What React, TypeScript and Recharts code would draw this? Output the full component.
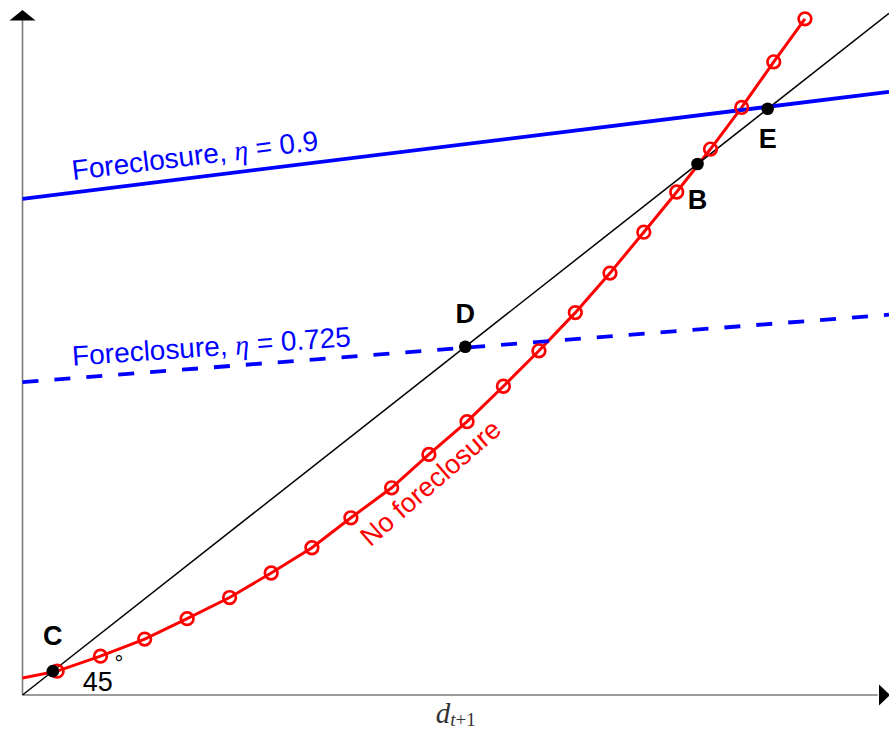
import { LineChart, Line, XAxis, YAxis, ReferenceLine, ReferenceDot } from "recharts";

// no-foreclosure curve (first point has no marker)
const noFcX = [0, 0.4, 0.9, 1.41, 1.9, 2.39, 2.87, 3.34, 3.79, 4.26, 4.69, 5.13, 5.55, 5.96, 6.38, 6.78, 7.17, 7.55, 7.94, 8.3, 8.67, 9.03];
const noFcY = [0.25, 0.35, 0.57, 0.82, 1.12, 1.43, 1.79, 2.16, 2.6, 3.04, 3.53, 4.01, 4.53, 5.05, 5.61, 6.19, 6.79, 7.38, 8.01, 8.62, 9.29, 9.92];

const fc09X = [0, 10];
const fc09Y = [7.28, 8.85];
const fc0725X = [0, 10];
const fc0725Y = [4.59, 5.58];
const diagX = [0, 10];
const diagY = [0, 10];

const pointNames = ["C", "D", "B", "E"];
const pointX = [0.35, 5.11, 7.79, 8.6];
const pointY = [0.35, 5.11, 7.79, 8.6];

const zip = (xs: number[], ys: number[]) => xs.map((x, i) => ({ x, y: ys[i] }));

const noFc = zip(noFcX, noFcY);
const fc09 = zip(fc09X, fc09Y);
const fc0725 = zip(fc0725X, fc0725Y);
const diag = zip(diagX, diagY);

const SANS = "'Liberation Sans', Arial, Helvetica, sans-serif";
const SERIF = "'Liberation Serif', 'Times New Roman', serif";

// offsets of the point letters from their dots, in px
const letterOffset: Record<string, [number, number]> = {
  C: [0, -35],
  D: [0, -33],
  B: [0, 36],
  E: [0, 30],
};

const redDot = (p: any) => {
  if (p.index === 0) return <g key={`d${p.index}`} />;
  return <circle key={`d${p.index}`} cx={p.cx} cy={p.cy} r={6.3} fill="none" stroke="#ff0000" strokeWidth={2.7} />;
};

const lineY = (xs: number[], ys: number[], x: number) => ys[0] + ((ys[1] - ys[0]) * (x - xs[0])) / (xs[1] - xs[0]);

export default function App() {
  return (
    <div style={{ width: 889, height: 730 }}>
      <style>{`body{margin:0;overflow:hidden}`}</style>
      <LineChart width={889} height={730} margin={{ top: 13.4, right: 0, bottom: 35, left: 22.5 }}>
        <XAxis type="number" dataKey="x" domain={[0, 10]} hide />
        <YAxis type="number" dataKey="y" domain={[0, 10]} hide />

        {/* axes */}
        <ReferenceLine segment={[{ x: 0, y: 0 }, { x: 0, y: 10 }]} stroke="#7a7a7a" strokeWidth={1.6} />
        <ReferenceLine segment={[{ x: 0, y: 0 }, { x: 9.87, y: 0 }]} stroke="#7a7a7a" strokeWidth={1.6} />
        <ReferenceDot
          x={0}
          y={10}
          shape={(p: any) => (
            <polygon points={`${p.cx},${p.cy - 3.5} ${p.cx - 13},${p.cy + 7} ${p.cx + 13},${p.cy + 7}`} fill="#000" />
          )}
        />
        <ReferenceDot
          x={10}
          y={0}
          shape={(p: any) => (
            <polygon points={`${p.cx + 1},${p.cy} ${p.cx - 10},${p.cy - 10.5} ${p.cx - 10},${p.cy + 10.5}`} fill="#000" />
          )}
        />

        <Line data={noFc} dataKey="y" stroke="#ff0000" strokeWidth={3} dot={redDot} isAnimationActive={false} />
        <Line data={diag} dataKey="y" stroke="#000" strokeWidth={1.5} dot={false} isAnimationActive={false} />
        <Line data={fc09} dataKey="y" stroke="#0000ff" strokeWidth={3.8} dot={false} isAnimationActive={false} />
        <Line
          data={fc0725}
          dataKey="y"
          stroke="#0000ff"
          strokeWidth={3.8}
          strokeDasharray="16 16"
          dot={false}
          isAnimationActive={false}
        />

        {pointNames.map((name, i) => (
          <ReferenceDot
            key={name}
            x={pointX[i]}
            y={pointY[i]}
            shape={(p: any) => (
              <g>
                <circle cx={p.cx} cy={p.cy} r={6.3} fill="#000" />
                <text
                  x={p.cx + letterOffset[name][0]}
                  y={p.cy + letterOffset[name][1]}
                  textAnchor="middle"
                  dominantBaseline="central"
                  fontFamily={SANS}
                  fontWeight="bold"
                  fontSize={27}
                  fill="#000"
                >
                  {name}
                </text>
                {name === "C" && (
                  <text x={p.cx + 45} y={p.cy + 20} textAnchor="middle" fontFamily={SANS} fontSize={27} fill="#000">
                    45
                  </text>
                )}
                {name === "C" && (
                  <text x={p.cx + 66} y={p.cy} textAnchor="middle" fontFamily={SANS} fontSize={22} fill="#000">
                    °
                  </text>
                )}
              </g>
            )}
          />
        ))}

        {/* line labels */}
        <ReferenceDot
          x={1.99}
          y={lineY(fc09X, fc09Y, 1.99)}
          shape={(p: any) => (
            <text
              x={p.cx}
              y={p.cy - 22}
              textAnchor="middle"
              dominantBaseline="central"
              transform={`rotate(-7 ${p.cx} ${p.cy - 22})`}
              fontFamily={SANS}
              fontSize={28}
              fill="#0000ff"
            >
              Foreclosure, <tspan fontFamily={SERIF} fontStyle="italic">η</tspan> = 0.9
            </text>
          )}
        />
        <ReferenceDot
          x={2.18}
          y={lineY(fc0725X, fc0725Y, 2.18)}
          shape={(p: any) => (
            <text
              x={p.cx}
              y={p.cy - 21}
              textAnchor="middle"
              dominantBaseline="central"
              transform={`rotate(-4 ${p.cx} ${p.cy - 21})`}
              fontFamily={SANS}
              fontSize={28}
              fill="#0000ff"
            >
              Foreclosure, <tspan fontFamily={SERIF} fontStyle="italic">η</tspan> = 0.725
            </text>
          )}
        />
        <ReferenceDot
          x={4.71}
          y={3.11}
          shape={(p: any) => (
            <text
              x={p.cx}
              y={p.cy}
              textAnchor="middle"
              dominantBaseline="central"
              transform={`rotate(-41 ${p.cx} ${p.cy})`}
              fontFamily={SANS}
              fontSize={27}
              fill="#ff0000"
            >
              No foreclosure
            </text>
          )}
        />

        {/* x axis label */}
        <ReferenceDot
          x={5}
          y={0}
          shape={(p: any) => (
            <text x={p.cx} y={p.cy + 28} textAnchor="middle" fontFamily={SERIF} fill="#333">
              <tspan fontStyle="italic" fontSize={29}>d</tspan>
              <tspan fontSize={19} dy={3}>
                <tspan fontStyle="italic">t</tspan>+1
              </tspan>
            </text>
          )}
        />
      </LineChart>
    </div>
  );
}
